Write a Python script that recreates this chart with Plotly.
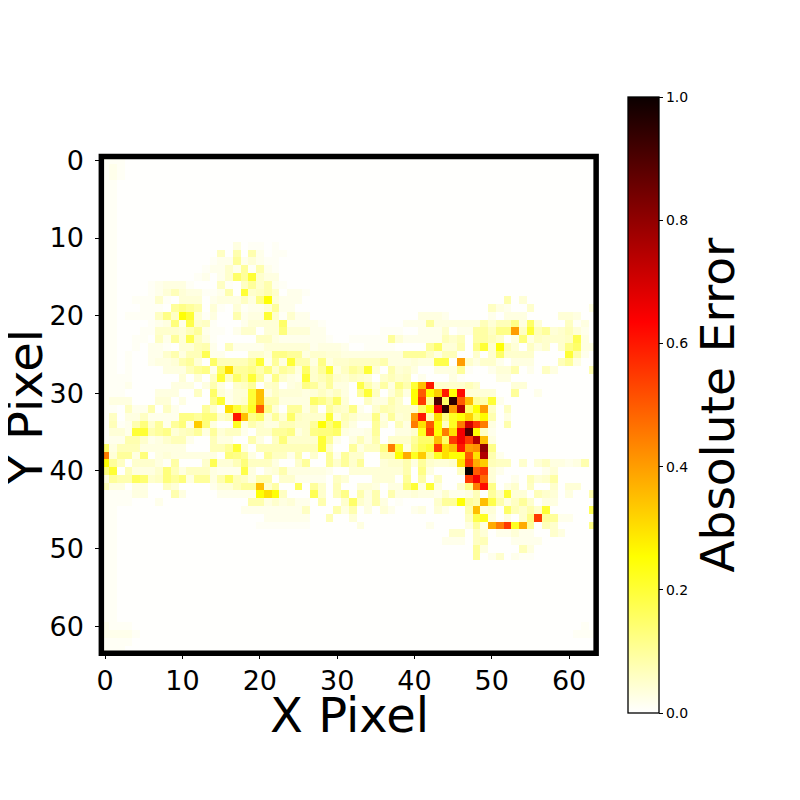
import plotly.graph_objects as go

# Absolute error in percent, row -> {column: percent}; unlisted cells use floor_pct
row_11 = {17:3, 19:1, 20:1, 22:1}
row_12 = {15:6, 17:8, 19:8, 20:2, 22:1, 23:1}
row_13 = {14:1, 15:2, 16:2, 17:10, 18:2, 19:4, 20:2, 21:1, 22:1}
row_14 = {13:1, 14:2, 15:2, 16:5, 17:2, 18:10, 19:1, 20:8, 21:2, 22:1}
row_15 = {12:1, 13:2, 15:2, 16:5, 17:15, 18:10, 19:20, 20:5, 21:3, 22:3}
row_16 = {6:1, 7:2, 8:3, 9:3, 10:3, 11:1, 15:6, 16:1, 18:6, 19:10, 20:5, 21:8, 22:2, 23:1}
row_17 = {6:1, 7:2, 8:4, 9:7, 10:4, 11:3, 12:3, 13:1, 14:1, 15:2, 16:8, 18:20, 19:5, 20:6, 21:8, 22:5, 24:2, 25:2, 26:1}
row_18 = {4:1, 5:1, 6:1, 7:5, 8:1, 10:4, 11:4, 12:4, 14:2, 15:3, 16:3, 17:3, 18:6, 19:3, 20:12, 21:25, 22:4, 23:2, 24:2, 25:2, 52:8, 54:4}
row_19 = {5:1, 6:1, 7:1, 9:10, 10:12, 11:10, 12:8, 14:4, 15:1, 17:4, 18:1, 19:2, 20:2, 21:4, 22:10, 23:2, 24:2, 50:6, 51:3, 52:2, 55:5, 63:3}
row_20 = {3:1, 4:1, 5:1, 6:1, 7:6, 8:12, 9:6, 10:25, 11:20, 12:4, 13:1, 14:3, 17:8, 18:2, 19:3, 20:3, 21:20, 22:5, 23:1, 24:5, 25:2, 26:2, 41:3, 42:3, 43:3, 44:2, 50:2, 52:3, 53:3, 54:3, 59:4, 60:4, 61:3}
row_21 = {6:1, 7:2, 8:3, 9:13, 10:2, 11:18, 12:5, 13:6, 14:1, 18:2, 19:4, 20:4, 21:4, 22:4, 23:15, 24:2, 25:2, 26:2, 27:2, 28:1, 39:2, 40:2, 41:2, 42:10, 43:3, 44:3, 45:3, 46:3, 47:3, 48:3, 49:7, 50:4, 51:7, 52:7, 53:12, 54:3, 55:15, 56:4, 60:6, 61:1, 62:3}
row_22 = {5:1, 6:1, 7:5, 8:5, 9:5, 10:4, 11:7, 12:10, 13:2, 14:1, 15:1, 17:2, 18:5, 19:5, 21:4, 22:4, 23:13, 24:4, 25:4, 26:4, 27:2, 28:2, 36:1, 37:1, 38:1, 41:2, 42:2, 43:2, 44:5, 46:2, 47:2, 48:9, 49:9, 50:6, 51:12, 52:12, 53:40, 54:6, 55:20, 56:7, 57:10, 58:4, 59:5, 60:7, 61:4, 62:2}
row_23 = {4:1, 5:1, 7:6, 8:2, 9:10, 10:4, 11:17, 12:6, 13:3, 14:1, 20:6, 21:6, 22:3, 23:2, 24:2, 25:2, 26:2, 27:2, 28:2, 29:1, 32:1, 33:1, 34:1, 35:1, 36:1, 37:10, 38:4, 39:2, 40:2, 41:2, 42:2, 43:2, 44:7, 45:5, 46:7, 48:9, 49:9, 50:7, 51:5, 53:3, 54:13, 55:3, 56:6, 57:5, 58:5, 59:5, 60:6, 61:17, 62:3}
row_24 = {4:1, 6:2, 7:2, 8:1, 10:4, 11:4, 12:7, 13:8, 14:2, 16:7, 17:2, 18:2, 19:2, 20:2, 21:4, 22:4, 23:4, 24:4, 25:4, 26:4, 27:2, 28:3, 29:3, 30:3, 31:2, 34:1, 35:1, 36:1, 37:1, 42:10, 43:15, 44:4, 45:4, 46:8, 48:12, 49:20, 50:5, 51:25, 52:7, 53:4, 55:6, 56:3, 57:5, 59:5, 60:12, 61:15, 62:3, 63:3}
row_25 = {3:1, 6:2, 7:2, 8:5, 9:8, 10:3, 11:7, 12:7, 13:17, 14:2, 15:2, 19:5, 20:5, 21:3, 22:12, 23:12, 24:10, 25:10, 26:3, 27:5, 28:5, 29:4, 30:4, 31:3, 32:3, 33:3, 34:3, 35:3, 36:3, 37:3, 38:3, 39:10, 40:10, 41:10, 42:6, 43:3, 44:7, 45:7, 48:5, 50:5, 51:15, 52:5, 53:5, 54:5, 55:5, 60:20, 61:8, 62:2}
row_26 = {3:1, 6:2, 7:3, 8:3, 9:4, 10:8, 11:10, 12:4, 14:15, 15:7, 16:7, 17:7, 18:7, 19:10, 20:20, 21:2, 22:10, 23:3, 24:20, 25:8, 26:8, 27:3, 28:12, 29:3, 30:5, 31:5, 32:6, 33:6, 34:6, 35:6, 36:8, 37:3, 38:3, 39:3, 40:4, 41:3, 42:3, 43:18, 44:18, 46:40, 47:5, 48:3, 49:5, 50:5, 51:2, 53:3, 54:3, 55:3, 59:7, 60:10, 61:3}
row_27 = {3:1, 8:3, 9:3, 10:3, 11:7, 12:10, 13:12, 14:2, 15:15, 16:30, 17:10, 18:10, 19:12, 20:8, 21:13, 22:5, 23:10, 24:8, 25:3, 26:15, 27:5, 28:10, 29:20, 30:3, 31:6, 32:10, 33:8, 34:20, 35:4, 37:8, 38:4, 39:5, 40:3, 43:3, 44:3, 45:3, 46:10, 47:1, 50:2, 51:4, 52:4, 53:8, 55:2, 57:6, 58:3, 63:8}
row_28 = {2:1, 3:1, 10:4, 12:4, 14:6, 15:20, 16:6, 17:15, 18:10, 19:20, 20:10, 21:2, 22:12, 23:5, 24:3, 25:2, 26:20, 27:5, 28:7, 29:10, 30:5, 31:4, 32:6, 33:5, 34:4, 36:5, 37:7, 38:5, 39:6, 41:2, 45:3, 46:1, 51:3, 52:3}
row_29 = {2:1, 3:2, 9:3, 10:3, 11:3, 13:3, 14:8, 15:3, 17:5, 18:6, 19:10, 21:5, 22:6, 24:3, 25:4, 26:12, 27:10, 28:5, 29:10, 30:3, 31:3, 33:18, 34:8, 35:4, 36:9, 37:3, 38:12, 39:8, 40:20, 41:35, 42:60, 43:5, 44:5, 45:5, 46:5, 47:7, 48:5, 53:4, 54:4}
row_30 = {1:1, 2:1, 7:3, 8:3, 9:3, 12:6, 14:15, 15:4, 16:2, 17:4, 18:4, 19:20, 20:35, 21:3, 22:6, 23:4, 24:4, 25:4, 26:3, 27:4, 28:6, 29:4, 30:6, 31:3, 33:10, 34:20, 35:6, 37:4, 38:8, 39:3, 40:25, 41:50, 42:25, 43:33, 44:60, 45:25, 46:62, 47:4, 48:4, 49:4, 50:4, 53:10, 56:2}
row_31 = {1:3, 2:3, 3:3, 7:4, 8:4, 10:3, 14:12, 15:20, 16:2, 17:4, 18:5, 19:20, 20:35, 21:8, 22:8, 23:3, 24:3, 25:3, 26:3, 27:15, 28:12, 29:8, 30:15, 31:4, 34:6, 35:3, 36:3, 37:8, 38:5, 40:25, 41:55, 42:10, 43:90, 44:15, 45:95, 46:50, 47:35, 48:10, 49:8, 50:20, 51:2}
row_32 = {3:6, 4:2, 5:2, 6:8, 8:6, 9:2, 13:10, 14:5, 16:30, 17:20, 18:13, 19:22, 20:50, 21:12, 22:4, 24:10, 25:10, 26:3, 27:7, 29:10, 30:6, 31:5, 32:12, 33:2, 35:5, 36:8, 37:7, 38:5, 39:5, 40:5, 41:15, 42:25, 43:65, 44:95, 45:40, 46:75, 47:15, 48:25, 49:40, 50:6, 52:6}
row_33 = {1:6, 3:3, 4:3, 5:6, 6:2, 7:2, 8:2, 9:2, 10:12, 11:12, 12:10, 13:13, 14:13, 15:5, 16:7, 17:60, 18:35, 19:12, 20:15, 21:4, 22:10, 23:4, 24:15, 25:6, 26:5, 27:5, 28:5, 29:20, 30:3, 31:7, 32:5, 33:3, 34:3, 35:12, 36:3, 37:10, 38:4, 39:5, 40:40, 41:60, 42:8, 43:30, 44:12, 45:22, 46:25, 47:32, 48:18, 49:26, 50:8, 52:3}
row_34 = {1:7, 2:1, 3:2, 4:8, 5:13, 6:5, 7:10, 8:2, 9:10, 10:13, 11:2, 12:33, 13:13, 14:3, 17:22, 18:3, 19:8, 20:5, 21:3, 22:3, 23:7, 24:7, 25:5, 26:5, 27:10, 28:25, 29:13, 30:20, 31:6, 32:3, 35:10, 36:4, 38:7, 39:3, 40:45, 41:30, 42:50, 43:25, 44:6, 45:22, 46:45, 47:70, 48:55, 49:45, 50:3, 52:8}
row_35 = {1:4, 2:4, 3:2, 4:20, 5:20, 6:8, 7:10, 8:12, 9:4, 10:6, 11:7, 12:10, 13:3, 14:10, 15:4, 16:6, 17:6, 18:2, 20:5, 21:5, 22:10, 23:10, 24:12, 25:3, 26:5, 27:12, 28:13, 29:13, 30:15, 31:3, 32:2, 33:2, 34:3, 35:10, 38:3, 39:3, 40:5, 41:22, 42:55, 43:25, 44:45, 45:30, 46:65, 47:90, 48:25, 49:6, 50:2}
row_36 = {1:2, 2:2, 3:8, 4:8, 5:5, 6:2, 7:3, 8:5, 9:7, 10:7, 11:2, 14:7, 15:3, 16:3, 19:8, 20:3, 22:6, 23:13, 24:5, 25:5, 26:5, 27:5, 28:20, 29:10, 30:2, 32:3, 33:7, 34:3, 35:8, 37:5, 38:5, 39:5, 40:10, 41:15, 42:15, 43:35, 44:15, 45:55, 46:65, 47:55, 48:75, 49:35, 50:3}
row_37 = {0:15, 1:3, 2:7, 3:7, 4:7, 5:3, 6:3, 7:3, 8:3, 9:3, 10:3, 14:7, 15:7, 16:10, 17:20, 18:3, 20:7, 21:7, 22:7, 23:7, 24:7, 25:7, 26:7, 27:7, 28:20, 29:5, 32:10, 33:3, 34:6, 35:6, 36:12, 37:45, 38:20, 39:3, 40:12, 41:17, 42:20, 43:55, 44:30, 45:35, 46:60, 47:40, 48:42, 49:80, 50:12}
row_38 = {0:45, 1:4, 2:10, 3:10, 4:3, 5:13, 7:3, 8:4, 9:3, 10:3, 11:3, 12:3, 13:3, 14:3, 16:13, 17:12, 18:10, 19:3, 21:10, 22:6, 23:6, 24:2, 25:8, 27:5, 29:10, 30:2, 31:10, 32:5, 33:5, 36:8, 37:8, 38:25, 39:38, 40:22, 41:33, 42:12, 43:22, 44:30, 45:25, 46:25, 47:50, 48:30, 49:75, 50:8, 51:2}
row_39 = {0:25, 1:10, 2:6, 4:5, 5:5, 6:5, 7:3, 8:1, 9:9, 13:5, 14:17, 15:4, 16:4, 17:7, 18:13, 19:6, 20:6, 21:6, 22:3, 25:5, 26:10, 29:10, 30:5, 31:10, 32:5, 33:10, 36:4, 37:5, 38:5, 39:8, 40:3, 41:10, 42:5, 43:4, 44:4, 45:5, 46:30, 47:55, 48:38, 49:33, 50:7, 51:6, 52:6, 54:5, 56:4, 57:6, 58:3, 59:3, 60:2, 61:3, 62:8}
row_40 = {0:13, 1:20, 3:7, 4:3, 5:3, 6:3, 7:5, 8:13, 9:7, 10:3, 11:6, 12:6, 13:6, 14:3, 15:2, 16:2, 17:2, 18:18, 19:3, 21:3, 22:4, 23:8, 24:3, 25:3, 26:3, 27:3, 28:3, 29:2, 32:4, 33:4, 34:4, 35:4, 36:4, 37:4, 38:4, 39:8, 41:12, 42:3, 46:6, 47:100, 48:50, 49:55, 50:4, 51:2, 57:2, 58:4}
row_41 = {0:3, 1:10, 2:8, 3:8, 4:16, 5:14, 6:5, 7:6, 8:13, 9:10, 10:13, 11:3, 12:10, 13:10, 14:3, 15:8, 16:15, 17:7, 18:6, 19:3, 20:8, 21:8, 23:5, 24:5, 25:2, 26:2, 27:2, 28:2, 30:6, 31:4, 35:4, 36:4, 37:4, 39:10, 41:9, 43:6, 47:55, 48:65, 49:48, 50:4, 53:2, 55:7, 56:4, 57:5, 58:9}
row_42 = {0:7, 1:3, 2:3, 4:3, 5:3, 8:6, 9:4, 14:2, 15:4, 16:4, 17:7, 18:10, 19:10, 20:35, 21:5, 22:9, 25:16, 27:10, 28:5, 30:7, 33:4, 34:4, 35:3, 37:3, 38:3, 39:13, 40:20, 41:3, 42:20, 43:3, 46:5, 47:12, 48:45, 49:62, 50:12, 52:3, 53:5, 55:6, 58:5, 60:4, 61:4}
row_43 = {1:1, 2:1, 3:1, 4:3, 5:3, 9:8, 10:3, 15:2, 16:2, 17:2, 18:2, 19:2, 20:25, 21:30, 22:25, 23:6, 27:17, 28:5, 30:7, 31:12, 33:8, 34:3, 35:8, 37:8, 38:3, 39:3, 40:4, 41:3, 42:3, 43:2, 44:5, 45:2, 46:2, 47:3, 48:7, 50:10, 51:5, 52:20, 53:4, 54:4, 56:7, 57:5, 58:4, 60:3, 63:8}
row_44 = {1:1, 2:1, 3:1, 7:2, 19:8, 20:8, 21:3, 22:5, 23:3, 24:4, 25:2, 26:2, 28:8, 31:5, 32:15, 33:5, 34:3, 35:8, 36:3, 38:1, 43:5, 44:10, 45:10, 46:25, 47:10, 48:8, 49:35, 50:18, 51:8, 52:3, 53:6, 54:10, 55:5, 57:3, 58:3}
row_45 = {18:2, 19:2, 20:2, 21:2, 22:2, 23:2, 24:2, 25:2, 26:6, 30:8, 31:3, 32:8, 34:3, 36:4, 37:2, 40:2, 41:3, 43:4, 44:2, 47:8, 48:35, 49:3, 50:4, 52:15, 53:7, 54:5, 55:8, 56:5, 57:20, 63:17}
row_46 = {21:2, 22:2, 23:2, 24:2, 25:2, 26:2, 29:7, 32:4, 47:6, 48:18, 49:22, 50:3, 52:3, 54:5, 55:12, 56:55, 57:10, 58:10, 59:2, 60:2}
row_47 = {20:1, 21:1, 22:1, 23:1, 24:1, 25:1, 26:1, 33:3, 42:2, 47:3, 48:10, 49:3, 50:38, 51:45, 52:55, 53:22, 54:38, 55:10, 57:7, 58:5, 63:12}
row_48 = {45:5, 46:5, 48:6, 49:4, 51:2, 52:2, 53:4, 54:2, 55:2, 58:5, 59:3}
row_49 = {44:2, 45:2, 46:2, 48:6, 49:7, 53:2, 54:2, 55:2, 56:2}
row_50 = {48:10, 49:3, 54:7, 55:3}
row_51 = {48:10, 50:2, 51:5, 53:2, 54:1, 55:1}
row_60 = {0:2, 1:1, 2:1, 3:1, 62:1}
row_61 = {0:2, 1:2, 2:2, 3:2, 4:1, 61:1, 62:1, 63:1}
row_62 = {0:1, 1:1, 2:1, 3:1}
row_63 = {0:1, 1:1, 2:1}
row_00 = {0:1, 1:1, 2:1}
row_01 = {0:1, 1:2, 2:1}
row_02 = {0:1, 1:2, 2:1}

sparse_rows = {0:row_00, 1:row_01, 2:row_02, 11:row_11, 12:row_12, 13:row_13, 14:row_14, 15:row_15, 16:row_16,
               17:row_17, 18:row_18, 19:row_19, 20:row_20, 21:row_21, 22:row_22, 23:row_23, 24:row_24,
               25:row_25, 26:row_26, 27:row_27, 28:row_28, 29:row_29, 30:row_30, 31:row_31, 32:row_32,
               33:row_33, 34:row_34, 35:row_35, 36:row_36, 37:row_37, 38:row_38, 39:row_39, 40:row_40,
               41:row_41, 42:row_42, 43:row_43, 44:row_44, 45:row_45, 46:row_46, 47:row_47, 48:row_48,
               49:row_49, 50:row_50, 51:row_51, 60:row_60, 61:row_61, 62:row_62, 63:row_63}
left_edge_pct = 1
floor_pct = 0.2

x_ticks = [0, 10, 20, 30, 40, 50, 60]
y_ticks = [0, 10, 20, 30, 40, 50, 60]
cbar_ticks = [0.0, 0.2, 0.4, 0.6, 0.8, 1.0]

z = []
for r in range(64):
    vals = sparse_rows.get(r, {})
    row = []
    for c in range(64):
        base = left_edge_pct if c < 2 else floor_pct
        row.append(vals.get(c, base) / 100)
    z.append(row)

hot_r = [[0.0, "rgb(255,255,255)"], [0.254, "rgb(255,255,0)"],
         [0.635, "rgb(255,0,0)"], [1.0, "rgb(11,0,0)"]]

FONT = "DejaVu Sans"
fig = go.Figure(go.Heatmap(
    z=z, zmin=0, zmax=1, colorscale=hot_r, hoverinfo="skip",
    colorbar=dict(
        x=619 / 800, xanchor="left", xpad=0, ypad=0,
        y=1 - 391 / 800, yanchor="middle",
        lenmode="pixels", len=616, thicknessmode="pixels", thickness=31,
        outlinewidth=1.3, outlinecolor="black",
        tickmode="array", tickvals=cbar_ticks, ticktext=["0.0", "0.2", "0.4", "0.6", "0.8", "1.0"],
        ticks="outside", ticklen=4, tickwidth=1, tickcolor="black",
        tickfont=dict(family=FONT, size=14, color="black"),
        title=dict(text="Absolute Error", side="right", font=dict(family=FONT, size=47, color="black")),
    ),
))
axis = dict(showgrid=False, zeroline=False, showline=False,
            ticks="outside", ticklen=5, tickwidth=1, tickcolor="black", tickmode="array",
            tickfont=dict(family=FONT, size=27, color="black"))
title_font = dict(family=FONT, size=48, color="black")
fig.update_layout(
    width=800, height=800, autosize=False, margin=dict(l=0, r=0, t=0, b=0),
    paper_bgcolor="white", plot_bgcolor="white",
    xaxis=dict(axis, domain=[88.9 / 800, 586.8 / 800], range=[-0.5, 63.5], tickvals=x_ticks,
               ticklabelstandoff=-2),
    yaxis=dict(axis, domain=[1 - 643 / 800, 1 - 138.6 / 800], range=[63.5, -0.5], tickvals=y_ticks,
               ticklabelstandoff=6),
    shapes=[dict(type="rect", xref="x domain", yref="y domain", x0=0, x1=1, y0=0, y1=1,
                 line=dict(color="black", width=5.5), fillcolor="rgba(0,0,0,0)", layer="above")],
    annotations=[
        dict(text="X Pixel", xref="paper", yref="paper", x=339 / 800, y=1 - 706 / 800,
             showarrow=False, xanchor="center", yanchor="middle", font=title_font),
        dict(text="Y Pixel", xref="paper", yref="paper", x=12 / 800, y=1 - 392.5 / 800,
             showarrow=False, xanchor="center", yanchor="middle", textangle=-90, font=title_font),
    ],
)
fig.write_html("out.html")
